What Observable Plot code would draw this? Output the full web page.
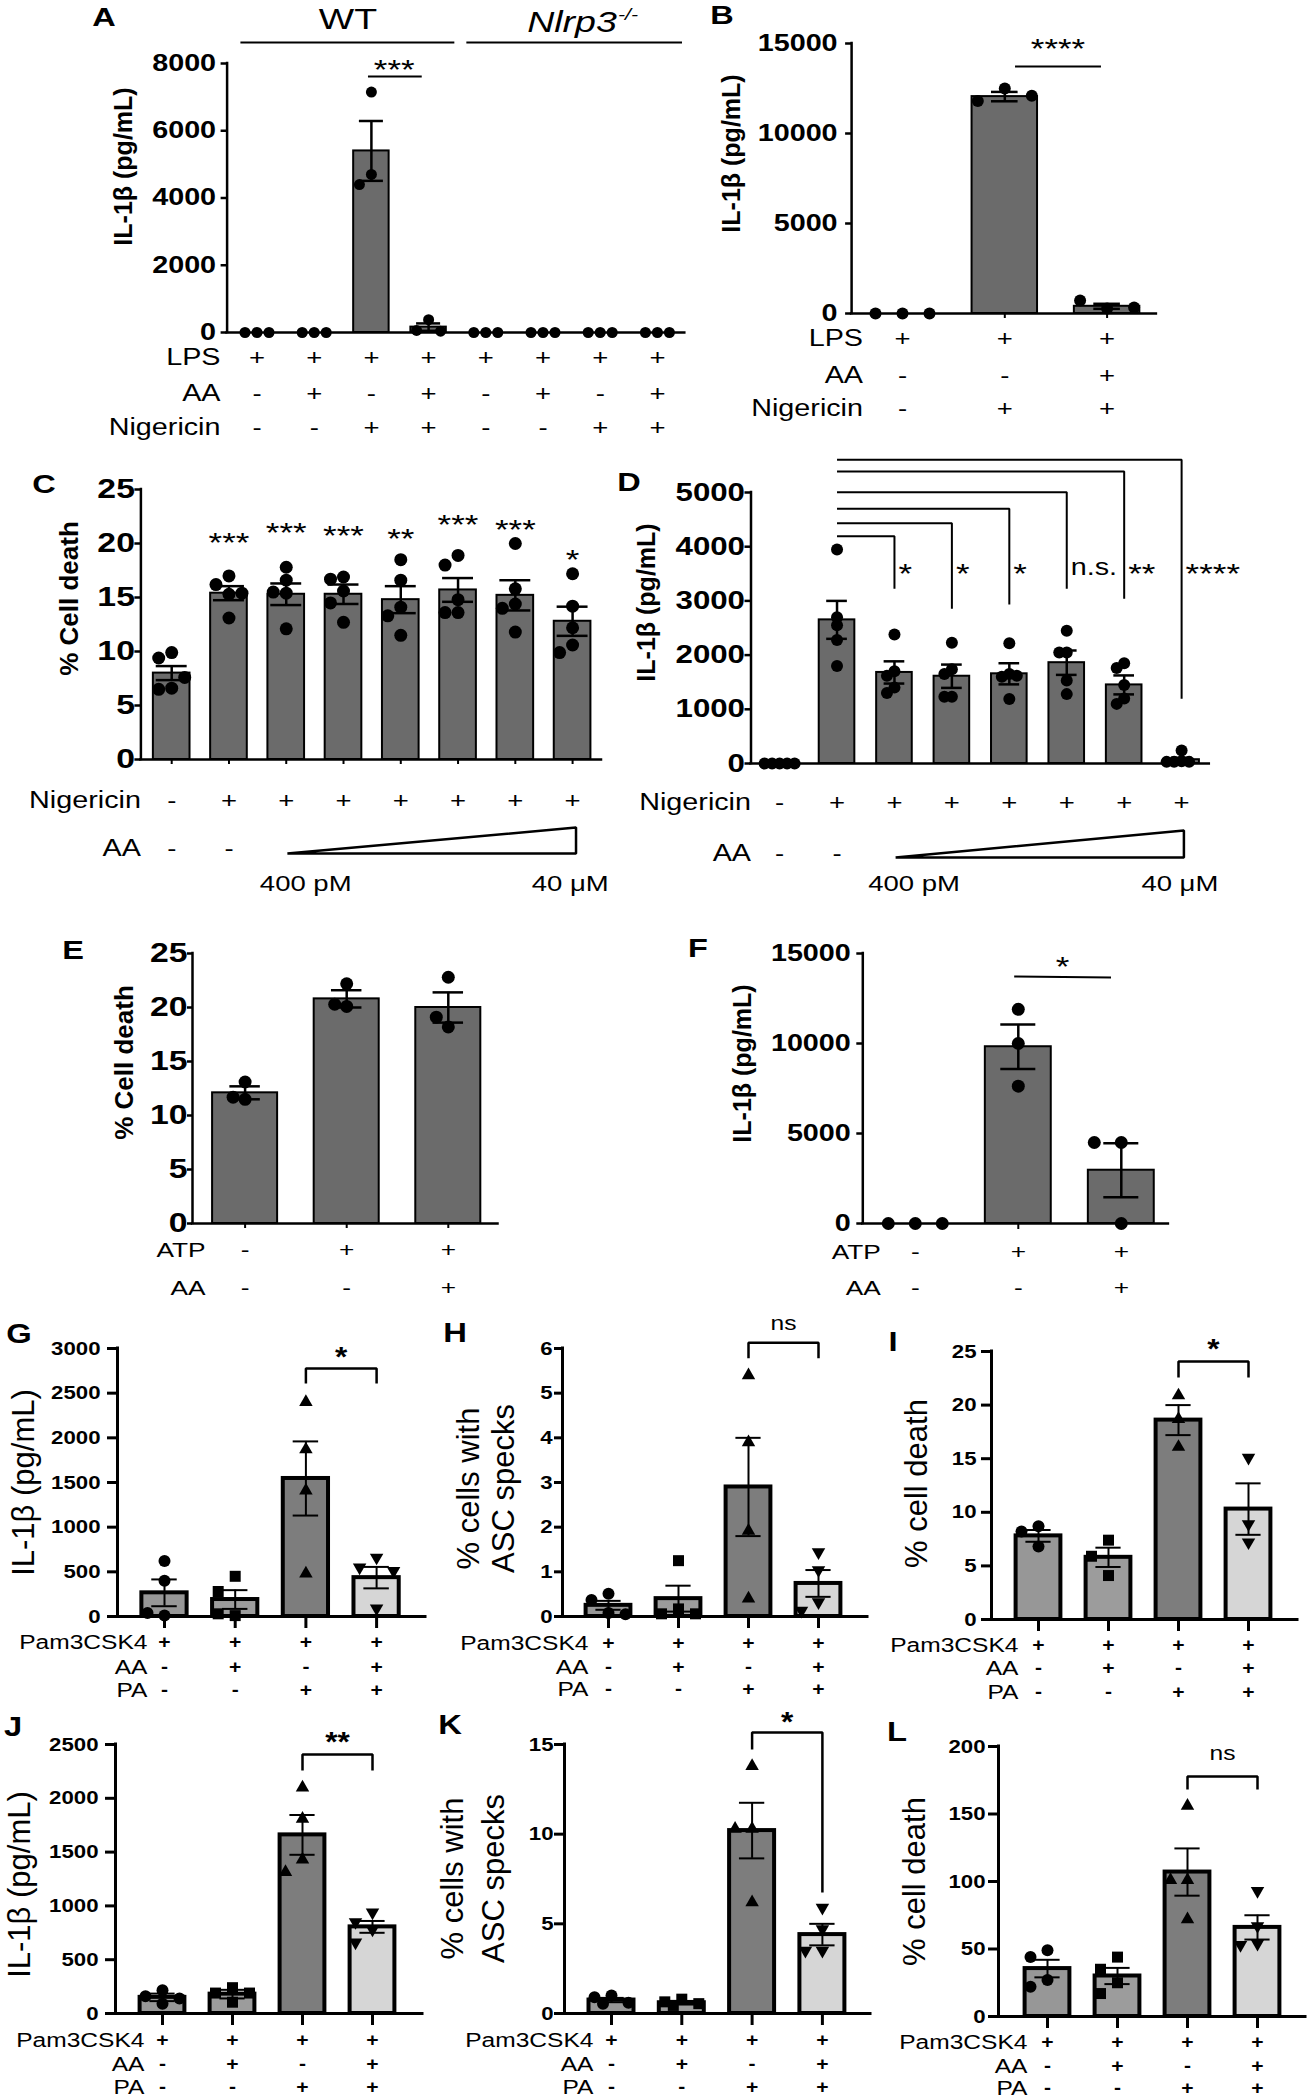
<!DOCTYPE html>
<html><head><meta charset="utf-8">
<script src="https://cdn.jsdelivr.net/npm/d3@7"></script>
<script src="https://cdn.jsdelivr.net/npm/@observablehq/plot@0.6"></script>
<style>
body{margin:0;background:#fff;}
#fig{position:relative;width:1309px;height:2100px;font-family:"Liberation Sans",Arial,Helvetica,sans-serif;overflow:hidden;background:#fff;}
#fig svg{position:absolute;overflow:visible;}
.letter{position:absolute;font-weight:bold;line-height:1;color:#000;}
</style></head><body><div id="fig"></div>
<script>
const FONT = '"Liberation Sans", Arial, Helvetica, sans-serif';

// ---------- Panel A ----------
const aLPS = ["+","+","+","+","+","+","+","+"];
const aAA  = ["-","+","-","+","-","+","-","+"];
const aNig = ["-","-","+","+","-","-","+","+"];
const aMean = [0, 0, 5400, 160, 0, 0, 0, 0];
const aSem  = [0, 0, 890, 110, 0, 0, 0, 0];
const aPts  = [[0,0,0],[0,0,0],[7150,4700,4400],[380,60,40],[0,0,0],[0,0,0],[0,0,0],[0,0,0]];
const aTicks = [0, 2000, 4000, 6000, 8000];

// ---------- Panel B ----------
const bLPS = ["+","+","+"];
const bAA  = ["-","-","+"];
const bNig = ["-","+","+"];
const bMean = [0, 12050, 400];
const bSem  = [0, 260, 140];
const bPts  = [[0,0,0],[12500,11800,12100],[280,720,330]];
const bTicks = [0, 5000, 10000, 15000];

// ---------- Panel C ----------
const cNig = ["-","+","+","+","+","+","+","+"];
const cAA  = ["-","-"];
const cDose = ["400 pM", "40 μM"];
const cMean = [8.0, 15.4, 15.3, 15.3, 14.8, 15.7, 15.2, 12.8];
const cSem  = [0.65, 0.65, 1.0, 0.9, 1.25, 1.1, 1.4, 1.35];
const cPts  = [
  [9.9, 9.4, 6.6, 6.5, 7.6],
  [17.0, 16.2, 15.3, 13.1, 15.4],
  [17.8, 16.6, 15.4, 15.5, 12.1],
  [16.9, 16.7, 15.6, 14.5, 12.7],
  [18.5, 16.6, 14.1, 13.3, 11.5],
  [18.9, 18.0, 14.8, 13.6, 13.6],
  [20.0, 15.8, 14.4, 14.0, 11.8],
  [17.2, 14.2, 12.2, 10.6, 9.9]
];
const cStars = ["", "***", "***", "***", "**", "***", "***", "*"];
const cTicks = [0, 5, 10, 15, 20, 25];

// ---------- Panel D ----------
const dNig = ["-","+","+","+","+","+","+","+"];
const dAA  = ["-","-"];
const dMean = [0, 2650, 1680, 1610, 1655, 1860, 1450, 70];
const dSem  = [0, 350, 205, 215, 195, 225, 175, 35];
const dPts  = [
  [0,0,0,0,0],
  [3950, 2700, 2550, 2280, 1800],
  [2380, 1700, 1620, 1400, 1300],
  [2230, 1740, 1650, 1230, 1230],
  [2220, 1650, 1600, 1620, 1190],
  [2450, 2050, 2050, 1530, 1280],
  [1850, 1760, 1450, 1200, 1100],
  [240, 40, 30, 30, 30]
];
const dSig = ["*", "*", "*", "n.s.", "**", "****"];
const dTicks = [0, 1000, 2000, 3000, 4000, 5000];

// ---------- Panel E ----------
const eATP = ["-","+","+"];
const eAA  = ["-","-","+"];
const eMean = [12.1, 20.8, 20.0];
const eSem  = [0.6, 0.8, 1.4];
const ePts  = [[11.5, 13.1, 11.7],[20.1, 22.2, 20.3],[18.2, 22.8, 19.1]];
const eTicks = [0, 5, 10, 15, 20, 25];

// ---------- Panel F ----------
const fATP = ["-","+","+"];
const fAA  = ["-","-","+"];
const fMean = [0, 9820, 2960];
const fSem  = [0, 1230, 1500];
const fPts  = [[0,0,0],[11900, 10000, 7630],[4500, 0, 4500]];
const fTicks = [0, 5000, 10000, 15000];

// ---------- Panels G-L (shared treatment rows) ----------
const pPam = ["+","+","+","+"];
const pAA  = ["-","+","-","+"];
const pPA  = ["-","-","+","+"];

const gMean = [265, 190, 1545, 435];
const gSem  = [150, 105, 415, 120];
const gPts  = [[620, 400, 10, 40],[450, 280, 10, 30],[2400, 1870, 1410, 480],[660, 550, 510, 90]];
const gTicks = [0, 500, 1000, 1500, 2000, 2500, 3000];

const hMean = [0.25, 0.40, 2.9, 0.74];
const hSem  = [0.1, 0.29, 1.1, 0.3];
const hPts  = [[0.51, 0.37, 0.08, 0.05],[1.25, 0.17, 0.06, 0.06],[5.4, 3.9, 1.92, 0.4],[1.44, 1.04, 0.32, 0.13]];
const hTicks = [0, 1, 2, 3, 4, 5, 6];

const iMean = [7.8, 5.8, 18.6, 10.3];
const iSem  = [0.55, 0.9, 1.4, 2.4];
const iPts  = [[8.7, 8.2, 6.8],[7.4, 5.9, 4.1],[20.9, 18.7, 16.1],[15.1, 8.9, 7.2]];
const iTicks = [0, 5, 10, 15, 20, 25];

const jMean = [150, 180, 1660, 805];
const jSem  = [35, 40, 185, 55];
const jPts  = [[215, 160, 140, 90],[240, 190, 190, 105],[2100, 1810, 1430, 1315],[940, 850, 780, 660]];
const jTicks = [0, 500, 1000, 1500, 2000, 2500];

const kMean = [0.75, 0.6, 10.2, 4.4];
const kSem  = [0.12, 0.1, 1.55, 0.6];
const kPts  = [[1.0, 0.9, 0.6, 0.55],[0.8, 0.65, 0.55, 0.45],[13.8, 10.3, 10.3, 6.2],[5.9, 4.7, 3.5, 3.5]];
const kTicks = [0, 5, 10, 15];

const lMean = [35.5, 30, 107, 66];
const lSem  = [6.5, 6, 17.5, 9];
const lPts  = [[49, 44, 27, 22],[44, 35, 25, 17],[156, 101, 101, 72],[93, 67, 54, 53]];
const lTicks = [0, 50, 100, 150, 200];

// ---------- helpers ----------
const sqrt3 = Math.sqrt(3);
const triDown = {draw(ctx, size) {
  const y = -Math.sqrt(size / (sqrt3 * 3));
  ctx.moveTo(0, -y * 2); ctx.lineTo(-sqrt3 * y, y); ctx.lineTo(sqrt3 * y, y); ctx.closePath();
}};
const glFills = ["#979797", "#9c9c9c", "#7d7d7d", "#d6d6d6"];
const glSyms = ["circle", "square", "triangle", triDown];
const glR = [6, 6.2, 5, 5];

const fig = document.getElementById("fig");

function txt(s, x, y, o = {}) {
  return Plot.text([s], {x, y, text: d => d, textAnchor: "middle", lineAnchor: "middle", ...o});
}
function path(pts, sw = 2) {
  return Plot.line(pts, {x: "x", y: "y", stroke: "black", strokeWidth: sw, strokeLinejoin: "miter", strokeLinecap: "butt"});
}

// the source figure's horizontal lettering is wider than Liberation Sans; widen each horizontal text about its anchor
function widen(svg, s) {
  svg.querySelectorAll("text").forEach(t => {
    let tr = t.getAttribute("transform");
    if (tr && /rotate\(/.test(tr)) return;
    if (!tr) {
      const x = +t.getAttribute("x") || 0, y = +t.getAttribute("y") || 0;
      t.removeAttribute("x"); t.removeAttribute("y");
      tr = `translate(${x},${y})`;
    }
    t.setAttribute("transform", tr + ` scale(${s},1)`);
  });
}

// side-by-side placement of replicate points: move sideways only when they would collide
function spread(vals, ppu, gap, maxOff) {
  const cands = [0];
  for (let k = 1; k * gap <= maxOff + 1e-6; k++) cands.push(-k * gap, k * gap);
  for (let k = 0; (k + 0.5) * gap <= maxOff + 1e-6; k++) cands.push(-(k + 0.5) * gap, (k + 0.5) * gap);
  const placed = [];
  return vals.map(v => {
    const yp = v * ppu;
    let best = 0, bestD = -1;
    for (const c of cands) {
      const md = placed.length ? Math.min(...placed.map(p => Math.hypot(p.x - c, p.y - yp))) : Infinity;
      if (md >= gap * 0.99) { best = c; bestD = Infinity; break; }
      if (md > bestD) { bestD = md; best = c; }
    }
    placed.push({x: best, y: yp});
    return best;
  });
}

function build(cfg) {
  const xA = (cfg.axisX - cfg.c0) / cfg.sp;
  const xB = (cfg.axisEnd - cfg.c0) / cfg.sp;
  const ppu = (cfg.y0 - cfg.yTop) / cfg.yMax;
  const groups = cfg.mean.map((m, i) => ({i, mean: m, sem: cfg.sem[i], fill: cfg.fills[i % cfg.fills.length]}));
  const hw = cfg.barW / 2;
  const marks = [];
  marks.push(Plot.rect(groups.filter(d => d.mean > 0), {
    x1: d => d.i - hw, x2: d => d.i + hw, y1: 0, y2: "mean",
    fill: "fill", stroke: "black", strokeWidth: cfg.barSW
  }));
  cfg.pts.forEach((vals, g) => {
    const offs = spread(vals, ppu, cfg.gap, cfg.maxOff != null ? cfg.maxOff : 2 * cfg.gap);
    const out = vals.map((v, k) => ({x: g + offs[k] / cfg.sp, y: v}));
    marks.push(Plot.dot(out, {
      x: "x", y: "y", r: cfg.symR[g % cfg.symR.length],
      symbol: cfg.symbols[g % cfg.symbols.length], fill: "black", stroke: "none"
    }));
  });
  const eg = groups.filter(d => d.sem > 0);
  marks.push(Plot.ruleX(eg, {x: "i", y1: d => d.mean - d.sem, y2: d => d.mean + d.sem, strokeWidth: cfg.errSW}));
  marks.push(Plot.ruleY(eg, {y: d => d.mean + d.sem, x1: d => d.i - cfg.capW, x2: d => d.i + cfg.capW, strokeWidth: cfg.errSW}));
  marks.push(Plot.ruleY(eg, {y: d => d.mean - d.sem, x1: d => d.i - cfg.capW, x2: d => d.i + cfg.capW, strokeWidth: cfg.errSW}));
  marks.push(Plot.ruleY([0], {x1: xA, x2: xB, strokeWidth: cfg.axSW, strokeLinecap: "square"}));
  marks.push(Plot.ruleX([xA], {y1: 0, y2: cfg.yMax, strokeWidth: cfg.axSW, strokeLinecap: "square"}));
  marks.push(Plot.axisY(cfg.ticks, {
    anchor: "left", tickSize: cfg.ytl, tickPadding: cfg.ytp, tickFormat: d => String(d),
    fontSize: cfg.tickFS, fontWeight: "bold", strokeWidth: cfg.axSW, label: null, fill: "black", stroke: "black"
  }));
  if (cfg.xtl) marks.push(Plot.ruleX(d3.range(cfg.mean.length), {x: d => d, y1: 0, y2: -cfg.xtl / ppu, strokeWidth: cfg.xtw}));
  cfg.rows.forEach(row => {
    marks.push(Plot.text(row.signs.map((s, i) => ({i, s})).filter(d => d.s), {
      x: "i", text: "s", frameAnchor: "bottom", dy: row.dy, textAnchor: "middle", lineAnchor: "middle",
      fontSize: cfg.signFS, fontWeight: cfg.signW
    }));
    marks.push(Plot.text([row.label], {
      text: d => d, frameAnchor: "bottom-left", dx: cfg.rowDx, dy: row.dy, textAnchor: "end", lineAnchor: "middle",
      fontSize: cfg.rowFS
    }));
  });
  marks.push(Plot.text([cfg.ylabel], {
    text: d => d, frameAnchor: "top-left", dx: cfg.ylx - cfg.axisX, dy: cfg.yly - cfg.yTop, rotate: -90,
    textAnchor: "middle", lineAnchor: "middle", fontSize: cfg.ylFS, fontWeight: cfg.ylW, lineHeight: cfg.ylLH || 1
  }));
  if (cfg.extra) marks.push(...cfg.extra());
  const svg = Plot.plot({
    width: cfg.width, height: cfg.height,
    marginLeft: cfg.axisX - cfg.left, marginRight: cfg.left + cfg.width - cfg.axisEnd,
    marginTop: cfg.yTop - cfg.top, marginBottom: cfg.top + cfg.height - cfg.y0,
    x: {type: "linear", domain: [xA, xB], axis: null},
    y: {type: "linear", domain: [0, cfg.yMax]},
    color: {type: "identity"},
    style: {fontFamily: FONT, color: "black", background: "transparent", overflow: "visible"},
    marks
  });
  widen(svg, cfg.wide);
  svg.style.left = cfg.left + "px";
  svg.style.top = cfg.top + "px";
  fig.appendChild(svg);
  const L = document.createElement("div");
  L.className = "letter";
  L.textContent = cfg.letter;
  L.style.left = cfg.lx + "px"; L.style.top = cfg.ly + "px"; L.style.fontSize = cfg.lFS + "px";
  L.style.transform = `translate(-50%,-50%) scaleX(${cfg.wide})`;
  fig.appendChild(L);
}

const AF = {fills: ["#6b6b6b"], symbols: ["circle"], barSW: 2, errSW: 2.5, axSW: 2.5, signW: "normal", ylW: "bold", ylFS: 25,
  lFS: 26, xtw: 2, wide: 1.25, rowFS: 23, signFS: 22};
const GL = {fills: glFills, symbols: glSyms, symR: glR, gap: 17, maxOff: 18, barW: 0.64, barSW: 4, errSW: 2, capW: 0.18, axSW: 3,
  ytl: 10, tickFS: 19, xtl: 12, xtw: 3, rowFS: 21, signFS: 18, signW: "bold", ylW: "normal", ylFS: 31, lFS: 28, wide: 1.17};

// Panel A
build({...AF, letter: "A", lx: 104, ly: 17,
  left: 0, top: 0, width: 690, height: 440, axisX: 226.6, axisEnd: 684.3, c0: 256.5, sp: 57.2, yTop: 63, y0: 332, yMax: 8000,
  ticks: aTicks, mean: aMean, sem: aSem, pts: aPts, symR: [5.5], gap: 12, barW: 0.62, capW: 0.21,
  ytl: 6, ytp: 5, tickFS: 23, xtl: 0,
  rows: [{label: "LPS", signs: aLPS, dy: 25}, {label: "AA", signs: aAA, dy: 61}, {label: "Nigericin", signs: aNig, dy: 95}],
  rowDx: -6.6,
  ylabel: "IL-1β (pg/mL)", ylx: 123, yly: 166,
  extra: () => [
    path([{x: -0.29, y: 8625}, {x: 3.45, y: 8625}]),
    path([{x: 3.66, y: 8625}, {x: 7.43, y: 8625}]),
    txt("WT", 1.59, 9309, {fontSize: 30}),
    txt("Nlrp3", 6.29, 9219, {fontSize: 30, fontStyle: "italic", textAnchor: "end"}),
    txt("-/-", 6.31, 9457, {fontSize: 17, fontStyle: "italic", textAnchor: "start"}),
    path([{x: 1.94, y: 7613}, {x: 2.88, y: 7613}]),
    txt("***", 2.4, 8000, {fontSize: 28, dy: 7})
  ]
});

// Panel B
build({...AF, letter: "B", lx: 722, ly: 15,
  left: 690, top: 0, width: 619, height: 440, axisX: 851.1, axisEnd: 1155.9, c0: 902, sp: 102.3, yTop: 43, y0: 313, yMax: 15000,
  ticks: bTicks, mean: bMean, sem: bSem, pts: bPts, symR: [6], gap: 27, barW: 0.64, capW: 0.13,
  ytl: 6, ytp: 8, tickFS: 23, xtl: 5,
  rows: [{label: "LPS", signs: bLPS, dy: 25}, {label: "AA", signs: bAA, dy: 62}, {label: "Nigericin", signs: bNig, dy: 95}],
  rowDx: 11.4,
  ylabel: "IL-1β (pg/mL)", ylx: 731.5, yly: 153,
  extra: () => [
    path([{x: 1.10, y: 13722}, {x: 1.94, y: 13722}]),
    txt("****", 1.52, 15056, {fontSize: 28, dy: 7})
  ]
});

// Panel C
const cStarY = [0, 20.7, 21.6, 21.3, 21.1, 22.4, 21.9, 19.1];
build({...AF, letter: "C", lx: 43.5, ly: 484,
  left: 0, top: 440, width: 620, height: 470, axisX: 140.4, axisEnd: 601, c0: 171.2, sp: 57.27, yTop: 489, y0: 759, yMax: 25,
  ticks: cTicks, mean: cMean, sem: cSem, pts: cPts, symR: [6.5], gap: 13, barW: 0.64, capW: 0.27,
  ytl: 6, ytp: 0, tickFS: 27, xtl: 5,
  rows: [{label: "Nigericin", signs: cNig, dy: 41}, {label: "AA", signs: cAA, dy: 89}],
  rowDx: 0,
  ylabel: "% Cell death", ylx: 69.2, yly: 598, ylFS: 26,
  extra: () => [
    Plot.text(cStars.map((s, i) => ({i, s, y: cStarY[i]})).filter(d => d.s),
      {x: "i", y: "y", text: "s", fontSize: 28, dy: 7, textAnchor: "middle", lineAnchor: "middle"}),
    path([{x: 2.02, y: -8.7}, {x: 7.06, y: -6.3}, {x: 7.06, y: -8.7}, {x: 2.02, y: -8.7}], 2.5),
    Plot.text(cDose, {x: (d, i) => i ? 6.96 : 2.34, text: d => d, frameAnchor: "bottom", dy: 124, fontSize: 22, textAnchor: "middle", lineAnchor: "middle"})
  ]
});

// Panel D
const dBr = [{g: 2, h: 4194, drop: 3223}, {g: 3, h: 4434, drop: 2854}, {g: 4, h: 4699, drop: 2934},
             {g: 5, h: 5006, drop: 3223}, {g: 6, h: 5387, drop: 3039}, {g: 7, h: 5603, drop: 1194}];
build({...AF, letter: "D", lx: 629, ly: 482,
  left: 620, top: 440, width: 689, height: 470, axisX: 750.5, axisEnd: 1208.8, c0: 779.1, sp: 57.43, yTop: 492, y0: 763, yMax: 5000,
  ticks: dTicks, mean: dMean, sem: dSem, pts: dPts, symR: [6], gap: 7.5, barW: 0.62, capW: 0.18,
  ytl: 6, ytp: 0, tickFS: 25, xtl: 0,
  rows: [{label: "Nigericin", signs: dNig, dy: 39}, {label: "AA", signs: dAA, dy: 90}],
  rowDx: 0,
  ylabel: "IL-1β (pg/mL)", ylx: 646.4, yly: 602,
  extra: () => [
    ...dBr.map(b => path([{x: 1, y: b.h}, {x: b.g, y: b.h}, {x: b.g, y: b.drop}])),
    ...dBr.map((b, k) => txt(dSig[k], b.g, 3622, {textAnchor: "start", dx: 4,
      fontSize: dSig[k] === "n.s." ? 23 : 28, dy: dSig[k] === "n.s." ? 0 : 7})),
    path([{x: 2.02, y: -1734}, {x: 7.04, y: -1236}, {x: 7.04, y: -1734}, {x: 2.02, y: -1734}], 2.5),
    Plot.text(cDose, {x: (d, i) => i ? 6.97 : 2.34, text: d => d, frameAnchor: "bottom", dy: 120, fontSize: 22, textAnchor: "middle", lineAnchor: "middle"})
  ]
});

// Panel E
build({...AF, letter: "E", lx: 73.4, ly: 950,
  left: 0, top: 900, width: 650, height: 420, axisX: 192, axisEnd: 497.5, c0: 244.6, sp: 101.6, yTop: 953, y0: 1223, yMax: 25,
  ticks: eTicks, mean: eMean, sem: eSem, pts: ePts, symR: [6.5], gap: 12, barW: 0.64, capW: 0.15,
  ytl: 5, ytp: 0, tickFS: 27, xtl: 5,
  rows: [{label: "ATP", signs: eATP, dy: 27}, {label: "AA", signs: eAA, dy: 65}],
  rowDx: 13, rowFS: 21, signFS: 21,
  ylabel: "% Cell death", ylx: 124.4, yly: 1062, ylFS: 26
});

// Panel F
build({...AF, letter: "F", lx: 698.3, ly: 948,
  left: 650, top: 900, width: 659, height: 420, axisX: 862.3, axisEnd: 1167.9, c0: 914.8, sp: 103, yTop: 953, y0: 1223, yMax: 15000,
  ticks: fTicks, mean: fMean, sem: fSem, pts: fPts, symR: [6.5], gap: 27, barW: 0.64, capW: 0.17,
  ytl: 6, ytp: 6, tickFS: 23, xtl: 6,
  rows: [{label: "ATP", signs: fATP, dy: 29}, {label: "AA", signs: fAA, dy: 65}],
  rowDx: 18, rowFS: 21, signFS: 21,
  ylabel: "IL-1β (pg/mL)", ylx: 742.5, yly: 1063,
  extra: () => [
    path([{x: 0.96, y: 13722}, {x: 1.90, y: 13667}]),
    txt("*", 1.43, 14611, {fontSize: 28, dy: 7})
  ]
});

const glRows = (a, b, c) => [{label: "Pam3CSK4", signs: pPam, dy: a}, {label: "AA", signs: pAA, dy: b}, {label: "PA", signs: pPA, dy: c}];
const bracket = (h, d1, d2) => path([{x: 2, y: d1}, {x: 2, y: h}, {x: 3, y: h}, {x: 3, y: d2}], 2.5);

// Panel G
build({...GL, letter: "G", lx: 19, ly: 1334,
  left: 0, top: 1300, width: 440, height: 400, axisX: 117, axisEnd: 425, c0: 164, sp: 70.7, yTop: 1348, y0: 1616, yMax: 3000,
  ticks: gTicks, mean: gMean, sem: gSem, pts: gPts, ytp: 7,
  rows: glRows(26, 51, 74), rowDx: 30,
  ylabel: "IL-1β (pg/mL)", ylx: 24, yly: 1482,
  extra: () => [bracket(2776, 2608, 2608), txt("*", 2.5, 2977, {fontSize: 27, fontWeight: "bold", dy: 7})]
});

// Panel H
build({...GL, letter: "H", lx: 455, ly: 1333,
  left: 440, top: 1300, width: 440, height: 400, axisX: 562, axisEnd: 867, c0: 608, sp: 70, yTop: 1348, y0: 1616, yMax: 6,
  ticks: hTicks, mean: hMean, sem: hSem, pts: hPts, ytl: 8, ytp: 2,
  rows: glRows(27, 51, 73), rowDx: 26,
  ylabel: "% cells with\nASC specks", ylx: 485, yly: 1488, ylLH: 1.12,
  extra: () => [bracket(6.13, 5.78, 5.78), txt("ns", 2.5, 6.56, {fontSize: 21})]
});

// Panel I
build({...GL, letter: "I", lx: 893, ly: 1342,
  left: 870, top: 1300, width: 439, height: 400, axisX: 991, axisEnd: 1297, c0: 1038, sp: 70, yTop: 1351, y0: 1619, yMax: 25,
  ticks: iTicks, mean: iMean, sem: iSem, pts: iPts, ytp: 5,
  rows: glRows(26, 49, 73), rowDx: 27,
  ylabel: "% cell death", ylx: 917, yly: 1483,
  extra: () => [bracket(24.07, 22.57, 22.57), txt("*", 2.5, 25.84, {fontSize: 27, fontWeight: "bold", dy: 7})]
});

// Panel J
build({...GL, letter: "J", lx: 13, ly: 1727,
  left: 0, top: 1700, width: 440, height: 400, axisX: 115, axisEnd: 422, c0: 162, sp: 70, yTop: 1744, y0: 2013, yMax: 2500,
  ticks: jTicks, mean: jMean, sem: jSem, pts: jPts, ytp: 7,
  rows: glRows(27, 51, 74), rowDx: 29,
  ylabel: "IL-1β (pg/mL)", ylx: 20, yly: 1884,
  extra: () => [bracket(2407, 2258, 2258), txt("**", 2.5, 2584, {fontSize: 27, fontWeight: "bold", dy: 7})]
});

// Panel K
build({...GL, letter: "K", lx: 450, ly: 1725,
  left: 440, top: 1700, width: 440, height: 400, axisX: 564, axisEnd: 870, c0: 611, sp: 70.3, yTop: 1744, y0: 2013, yMax: 15,
  ticks: kTicks, mean: kMean, sem: kSem, pts: kPts, ytp: 1,
  rows: glRows(27, 51, 74), rowDx: 29,
  ylabel: "% cells with\nASC specks", ylx: 470, yly: 1878, ylLH: 1.3,
  extra: () => [bracket(15.67, 14.72, 6.75), txt("*", 2.5, 16.62, {fontSize: 27, fontWeight: "bold", dy: 7})]
});

// Panel L
build({...GL, letter: "L", lx: 897, ly: 1732,
  left: 870, top: 1700, width: 439, height: 400, axisX: 998, axisEnd: 1305, c0: 1047, sp: 70, yTop: 1746, y0: 2016, yMax: 200,
  ticks: lTicks, mean: lMean, sem: lSem, pts: lPts, ytp: 3,
  rows: glRows(26, 50, 72), rowDx: 29,
  ylabel: "% cell death", ylx: 915, yly: 1881,
  extra: () => [bracket(177.8, 168.1, 168.1), txt("ns", 2.5, 194.8, {fontSize: 21})]
});
</script></body></html>
